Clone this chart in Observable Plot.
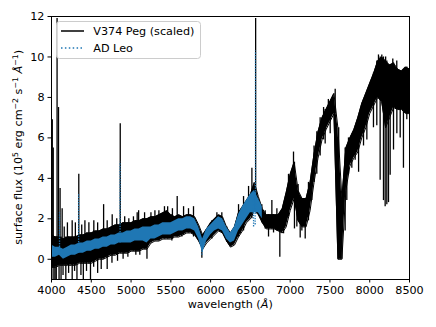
<!DOCTYPE html>
<html><head><meta charset="utf-8">
<script src="https://cdn.jsdelivr.net/npm/d3@7"></script>
<script src="https://cdn.jsdelivr.net/npm/@observablehq/plot@0.6"></script>
<style>body{margin:0;background:#fff} svg{display:block}</style>
</head><body><div id="chart"></div>
<script>
// V374 Peg (scaled): solid band of the noisy spectrum, read every 50 Å
const pegWl = [4000,4050,4100,4150,4200,4250,4300,4350,4400,4450,4500,4550,4600,4650,4700,4750,4800,4850,4900,4950,
  5000,5050,5100,5150,5200,5250,5300,5350,5400,5450,5500,5550,5600,5650,5700,5750,5800,5850,5900,5950,
  6000,6050,6100,6150,6200,6250,6300,6350,6400,6450,6500,6550,6600,6650,6700,6750,6800,6850,6900,6950,
  7000,7050,7100,7150,7200,7250,7300,7350,7400,7450,7500,7550,7600,7650,7700,7750,7800,7850,7900,7950,
  8000,8050,8100,8150,8200,8250,8300,8350,8400,8450,8500];
const pegHi = [1.2,1.1,1.1,1.0,1.1,1.1,1.1,1.2,1.2,1.3,1.3,1.4,1.4,1.5,1.5,1.6,1.7,1.7,1.8,1.8,
  1.8,1.9,1.9,2.0,2.0,2.1,2.1,2.2,2.3,2.4,2.2,2.1,2.2,2.1,2.2,2.2,2.1,1.7,1.2,1.5,
  1.8,2.0,2.2,2.1,1.6,1.3,1.6,2.3,2.6,2.9,3.2,3.8,3.1,2.5,2.2,2.2,2.2,2.2,2.5,3.3,
  4.2,4.8,3.4,3.0,3.0,3.8,5.2,6.3,7.0,7.4,7.8,8.2,6.5,3.0,5.5,6.0,6.4,7.0,7.7,8.2,
  8.7,9.2,9.8,10.0,9.8,9.6,9.7,9.4,9.3,9.5,9.4];
const pegLo = [-0.4,-0.4,-0.3,-0.3,-0.3,-0.3,-0.3,-0.2,-0.2,-0.2,-0.2,-0.1,0.0,0.0,0.1,0.2,0.2,0.3,0.3,0.3,
  0.4,0.4,0.4,0.5,0.5,0.8,0.9,0.9,1.0,1.0,1.0,1.1,1.1,1.2,1.3,1.3,1.2,0.9,0.5,0.8,
  1.0,1.2,1.4,1.3,0.9,0.6,0.7,1.1,1.4,1.8,2.0,2.4,2.2,1.8,1.5,1.5,1.5,1.4,1.3,1.6,
  2.4,3.0,1.9,1.6,1.6,2.4,3.8,5.0,5.9,6.4,6.8,7.2,0.0,0.0,3.4,4.6,5.0,5.3,6.0,6.5,
  7.2,7.6,8.0,7.8,6.5,7.0,7.5,7.4,7.4,7.2,7.2];
// V374 Peg emission lines / upward noise spikes
const pegSpikeWl  = [4010,4022,4070,4088,4108,4134,4160,4200,4260,4300,4343,4380,4420,4470,4532,4580,4655,4700,4763,4820,
  4864,4920,4972,5030,5077,5095,5170,5250,5300,5350,5420,5460,5520,5580,5660,5722,5785,6016,6079,6141,
  6351,6414,6477,6519,6566,6644,6686,6770,6833,7042,7100,7300,7420,7480,7566,8110,8152,8200,8290,8340,8490];
const pegSpikeTop = [6.9,5.5,11.9,7.5,3.5,2.5,1.6,1.8,1.9,1.8,4.2,1.7,1.9,1.8,1.9,1.8,2.7,1.9,2.2,2.0,
  6.7,2.1,2.0,2.1,2.3,2.4,2.3,2.3,2.4,2.4,2.6,2.6,2.5,3.1,2.6,2.5,2.6,1.9,2.3,2.3,
  2.7,3.1,3.6,4.5,11.9,2.7,2.4,2.9,2.5,5.3,3.7,5.6,7.5,7.9,8.4,10.1,10.1,10.0,9.9,9.8,9.4];
// V374 Peg absorption dips / downward noise spikes
const pegDipWl = [4005,4030,4045,4060,4095,4120,4145,4180,4215,4260,4290,4320,4370,4400,4440,4490,4530,4580,4625,4700,
  4760,4830,4900,4960,5060,5110,5200,5513,5639,5785,5890,5974,6204,6267,6372,6728,6791,6870,6917,6979,
  7054,7084,7126,7147,7189,7230,7272,7335,7377,7440,7503,7610,7630,7650,7691,7712,7733,7775,7817,7860,
  7922,7964,8047,8089,8131,8173,8194,8215,8236,8257,8299,8341,8383,8424,8466];
const pegDipBottom = [-1.2,-1.2,-1.2,-1.0,-1.0,-1.2,-0.8,-1.2,-0.7,-1.2,-0.6,-1.2,-0.8,-1.2,-0.6,-1.0,-0.4,-0.7,-0.5,-0.5,
  -0.2,-0.1,0.0,0.1,0.2,0.2,0.0,0.9,1.1,1.1,0.05,1.0,0.84,0.68,1.26,1.1,1.3,0.1,1.26,2.1,
  1.5,1.6,1.05,1.4,1.0,1.9,2.9,4.2,5.1,5.7,6.2,0.0,0.0,0.0,1.4,2.9,4.2,4.5,4.9,4.3,
  5.6,5.9,6.5,6.6,3.9,2.9,2.6,2.7,2.8,4.15,5.4,6.2,6.0,4.5,6.9];

// AD Leo
const adWl = [4000,4050,4100,4150,4200,4250,4300,4350,4400,4450,4500,4550,4600,4650,4700,4750,4800,4850,4900,4950,
  5000,5050,5100,5150,5200,5250,5300,5350,5400,5450,5500,5550,5600,5650,5700,5750,5800,5850,5900,5950,
  6000,6050,6100,6150,6200,6250,6300,6350,6400,6450,6500,6550,6600,6650];
const adHi = [0.7,0.6,0.6,0.5,0.6,0.7,0.7,0.8,0.8,0.9,0.9,1.0,1.0,1.1,1.1,1.2,1.2,1.3,1.3,1.4,
  1.4,1.5,1.5,1.6,1.6,1.6,1.7,1.7,1.8,1.8,1.8,1.9,2.0,2.0,2.1,2.1,2.0,1.6,1.0,1.5,
  1.7,1.9,2.1,2.0,1.6,1.3,1.6,2.2,2.6,2.9,3.2,3.4,3.0,2.6];
const adLo = [0.1,0.1,0.2,0.0,0.1,0.2,0.2,0.3,0.3,0.4,0.4,0.5,0.5,0.6,0.6,0.7,0.7,0.8,0.8,0.8,
  0.8,0.9,0.9,0.9,0.8,1.0,1.0,1.1,1.2,1.2,1.2,1.3,1.4,1.4,1.5,1.5,1.4,1.0,0.3,0.9,
  1.2,1.4,1.5,1.4,1.0,0.8,0.9,1.4,1.7,2.0,2.3,2.3,2.3,2.0];
const adSpikeWl  = [4101,4341,4862,6564];
const adSpikeTop = [2.3,3.2,4.8,10.3];
const adDipWl = [5891,6540,6560];
const adDipBottom = [0.2,1.6,1.7];

const xTicks = [4000,4500,5000,5500,6000,6500,7000,7500,8000,8500];
const yTicks = [0,2,4,6,8,10,12];

const BLUE = "#1f77b4";
const FONT = "DejaVu Sans";

const pegBand = pegWl.map((w,i)=>({w, hi:pegHi[i], lo:pegLo[i]}));
const adBand = adWl.map((w,i)=>({w, hi:adHi[i], lo:adLo[i]}));
function nearest(wls, vals, w){ let b=0; for(let i=1;i<wls.length;i++) if(Math.abs(wls[i]-w)<Math.abs(wls[b]-w)) b=i; return vals[b]; }
const pegSpikes = pegSpikeWl.map((w,i)=>({w, top:pegSpikeTop[i], base:nearest(pegWl,pegLo,w)}));
const pegDips = pegDipWl.map((w,i)=>({w, bottom:pegDipBottom[i], base:nearest(pegWl,pegHi,w)}));
const adSpikes = adSpikeWl.map((w,i)=>({w, top:adSpikeTop[i], base:nearest(adWl,adLo,w)}));
const adDips = adDipWl.map((w,i)=>({w, bottom:adDipBottom[i], base:nearest(adWl,adHi,w)}));

const chart = Plot.plot({
  width: 436, height: 327,
  marginLeft: 51, marginRight: 27, marginTop: 16, marginBottom: 48,
  style: {fontFamily: FONT, fontSize: "11.2px", background: "white", color: "black"},
  x: {domain: [4000, 8500]},
  y: {domain: [-1, 12]},
  marks: [
    Plot.areaY(pegBand, {x:"w", y1:"lo", y2:"hi", fill:"black", clip:true}),
    Plot.line(pegBand, {x:"w", y:"hi", stroke:"black", strokeWidth:1, clip:true}),
    Plot.line(pegBand, {x:"w", y:"lo", stroke:"black", strokeWidth:1, clip:true}),
    Plot.ruleX(pegSpikes, {x:"w", y1:"base", y2:"top", stroke:"black", strokeWidth:1.3, clip:true}),
    Plot.ruleX(pegDips, {x:"w", y1:"bottom", y2:"base", stroke:"black", strokeWidth:1.3, clip:true}),
    Plot.areaY(adBand, {x:"w", y1:"lo", y2:"hi", fill:BLUE, clip:true}),
    Plot.ruleX(adSpikes, {x:"w", y1:"base", y2:"top", stroke:BLUE, strokeWidth:1.3, strokeDasharray:"1.3,1.3", clip:true}),
    Plot.ruleX(adDips, {x:"w", y1:"bottom", y2:"base", stroke:BLUE, strokeWidth:1.3, strokeDasharray:"1.3,1.3", clip:true}),
    Plot.axisX({ticks: xTicks, tickSize: 3.5, tickPadding: 3.5, tickFormat: d => String(d), label: null}),
    Plot.axisY({ticks: yTicks, tickSize: 3.5, tickPadding: 3.5, tickFormat: d => String(d), label: null}),
    Plot.frame({stroke: "black", strokeWidth: 1})
  ]
});
document.getElementById("chart").appendChild(chart);

const svg = d3.select(chart);
// legend
const lg = svg.append("g").attr("font-family", FONT).attr("font-size", "11.2px").attr("text-anchor","start");
lg.append("rect").attr("x",56.5).attr("y",21.5).attr("width",144).attr("height",37).attr("rx",3)
  .attr("fill","white").attr("fill-opacity",0.8).attr("stroke","#cccccc");
lg.append("line").attr("x1",61).attr("x2",84).attr("y1",31).attr("y2",31).attr("stroke","black").attr("stroke-width",1.5);
lg.append("line").attr("x1",61).attr("x2",84).attr("y1",48).attr("y2",48).attr("stroke",BLUE).attr("stroke-width",1.5).attr("stroke-dasharray","1.5,2.4");
lg.append("text").attr("x",93.3).attr("y",35).attr("fill","black").attr("text-anchor","start").text("V374 Peg (scaled)");
lg.append("text").attr("x",93.3).attr("y",51.7).attr("fill","black").attr("text-anchor","start").text("AD Leo");

// x label
const xl = svg.append("text").attr("x",230.2).attr("y",308).attr("text-anchor","middle")
  .attr("font-family",FONT).attr("font-size","11.2px").attr("fill","black");
xl.append("tspan").text("wavelength (");
xl.append("tspan").attr("font-style","italic").text("Å");
xl.append("tspan").text(")");

// y label
const yl = svg.append("text").attr("transform","translate(22,147.4) rotate(-90)").attr("text-anchor","middle")
  .attr("font-family",FONT).attr("font-size","11.2px").attr("fill","black");
yl.append("tspan").text("surface flux (10");
yl.append("tspan").attr("font-size","7.8px").attr("dy",-4.5).text("5");
yl.append("tspan").attr("dy",4.5).text(" erg cm");
yl.append("tspan").attr("font-size","7.8px").attr("dy",-4.5).text("−2");
yl.append("tspan").attr("dy",4.5).text(" s");
yl.append("tspan").attr("font-size","7.8px").attr("dy",-4.5).text("−1");
yl.append("tspan").attr("dy",4.5).text(" ");
yl.append("tspan").attr("font-style","italic").text("Å");
yl.append("tspan").attr("font-size","7.8px").attr("dy",-4.5).text("−1");
yl.append("tspan").attr("dy",4.5).text(")");
</script>
</body></html>
